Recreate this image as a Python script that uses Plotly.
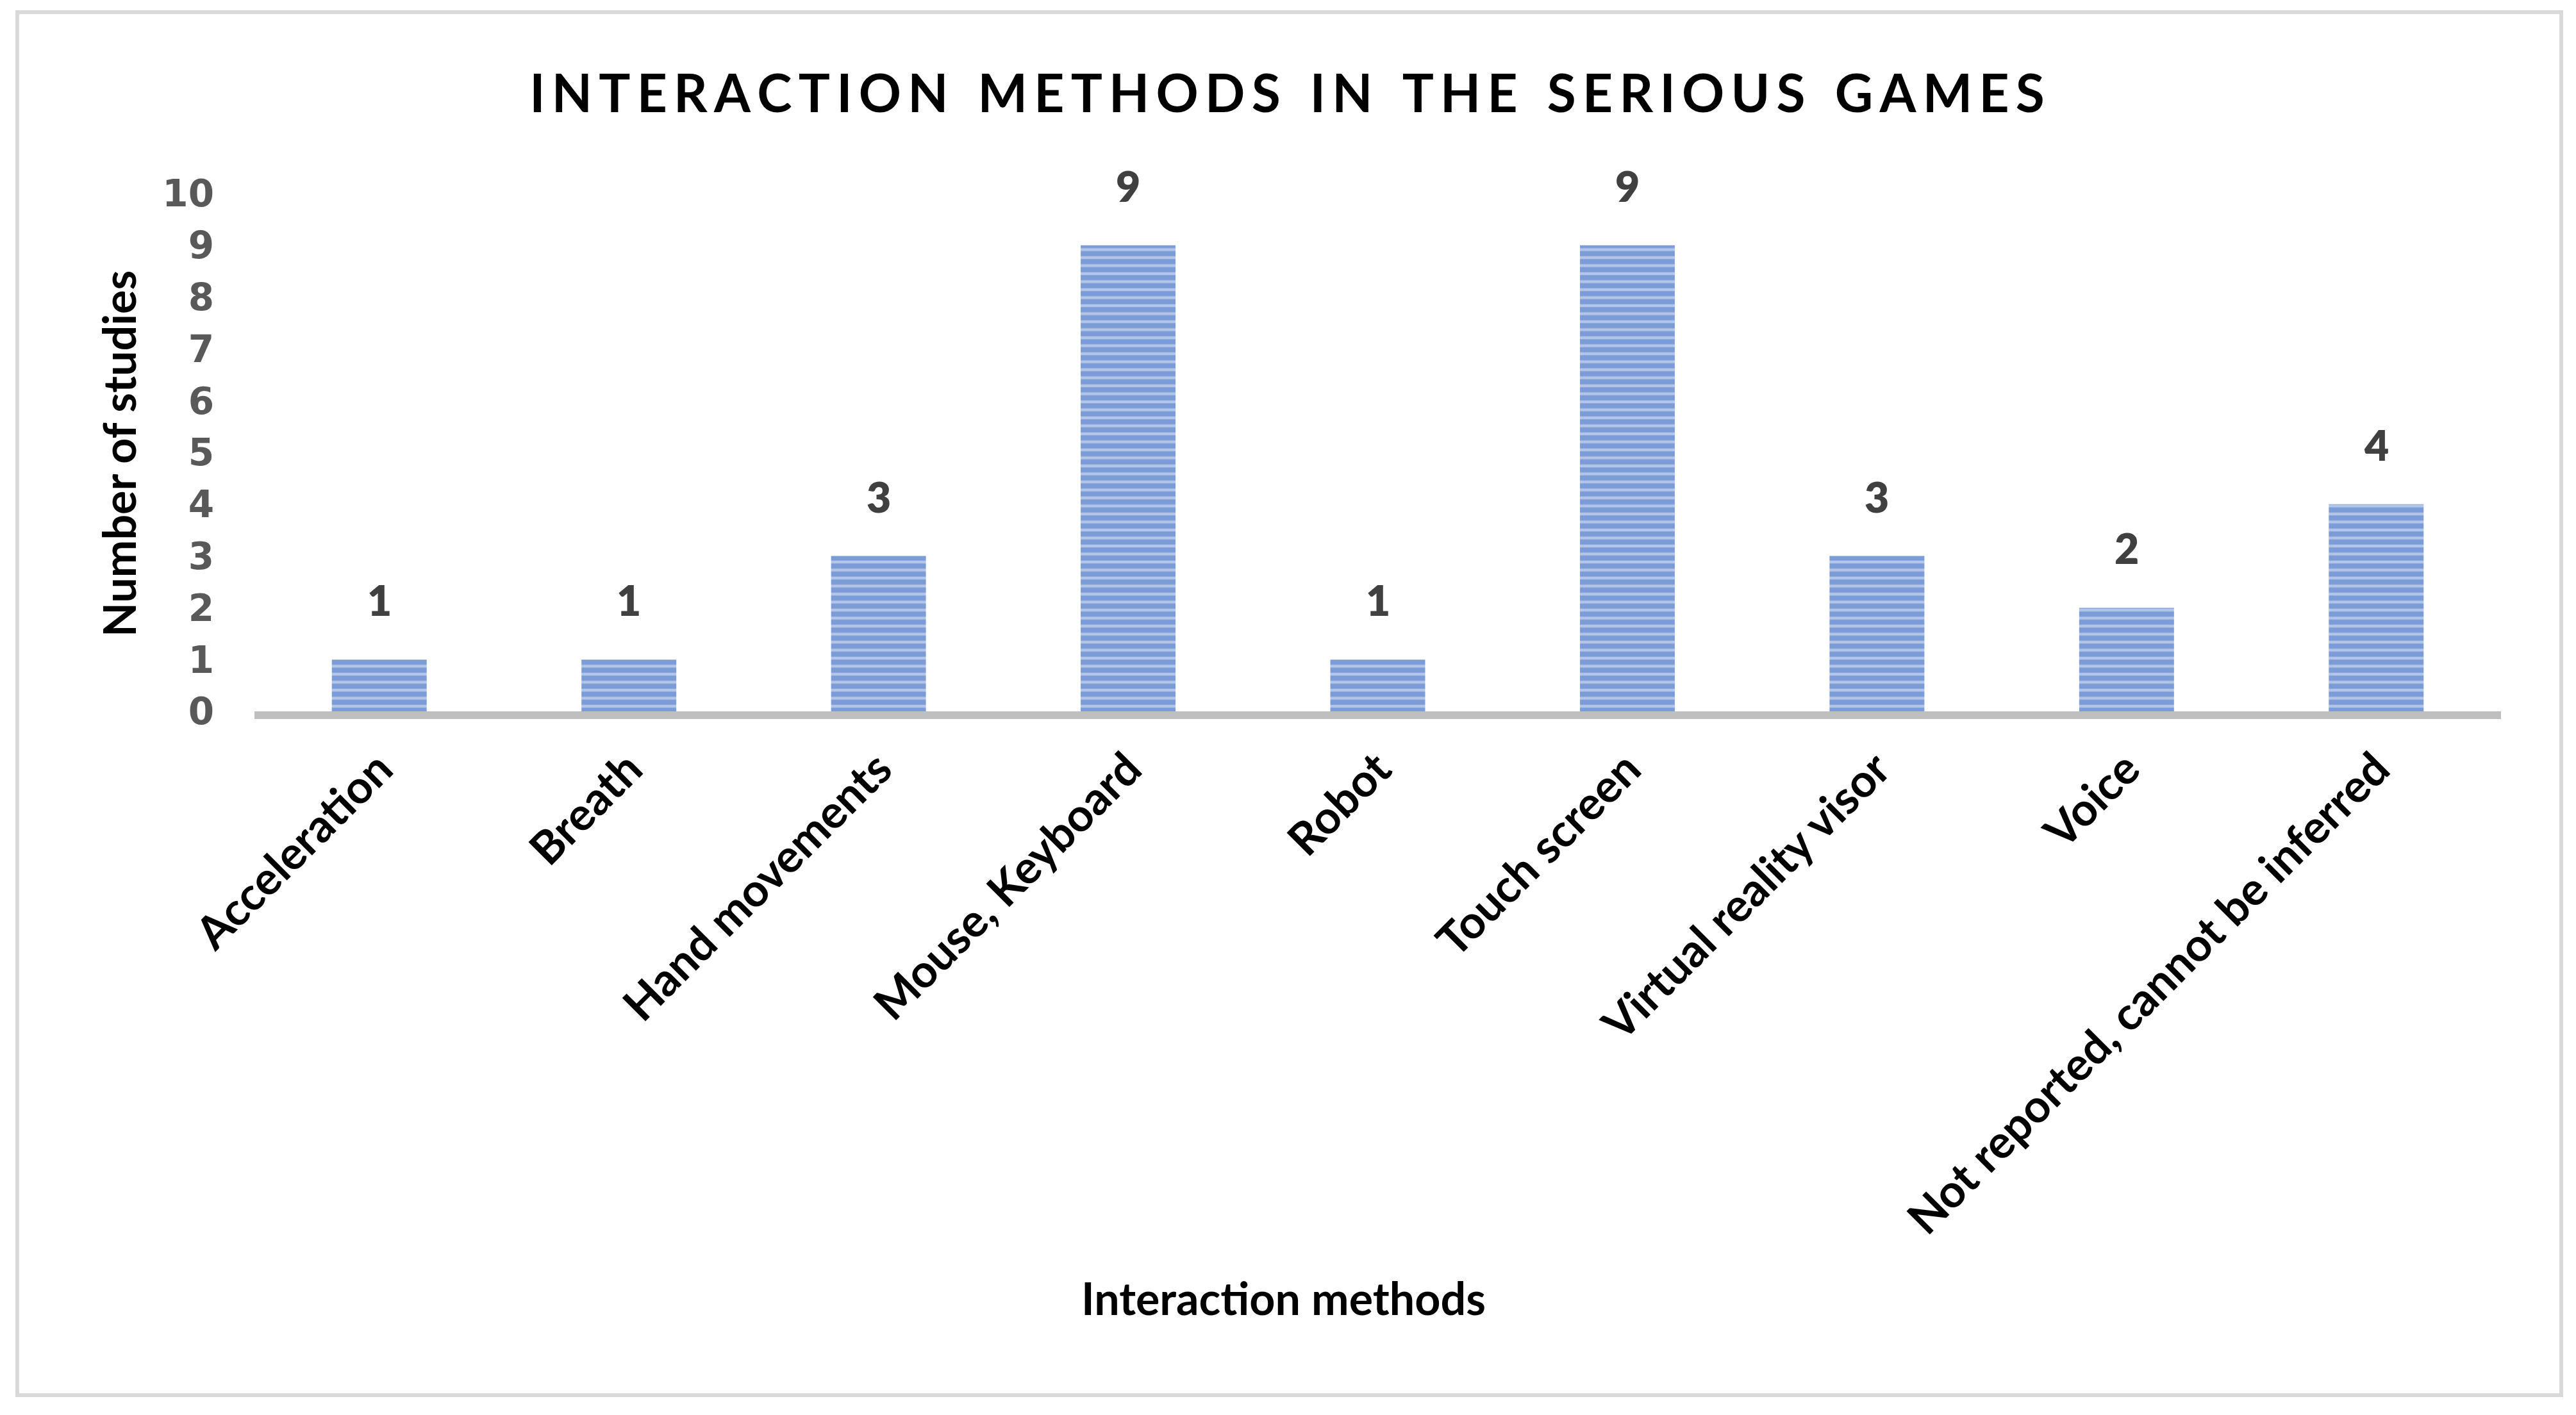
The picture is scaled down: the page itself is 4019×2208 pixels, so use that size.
import plotly.graph_objects as go

categories = ["Acceleration", "Breath", "Hand movements", "Mouse, Keyboard", "Robot",
              "Touch screen", "Virtual reality visor", "Voice", "Not reported, cannot be inferred"]
studies = [1, 1, 3, 9, 1, 9, 3, 2, 4]
y_ticks = list(range(0, 11))

title_text = "INTERACTION METHODS IN THE SERIOUS GAMES"
x_title = "Interaction methods"
y_title = "Number of studies"

W, H = 4019, 2208
OFF = 8  # page body margin
L, T = 397 - OFF, 302 - OFF
R, B = W - (3902 - OFF), H - (1110 - OFF)
PW, PH = W - L - R, H - T - B


def px(x):
    return (x - OFF - L) / PW


def py(y):
    return (H - B - (y - OFF)) / PH


def spaced(s, gap="\u200a\u200a"):
    # imitate Excel's character spacing
    return gap.join(s).replace(gap + " " + gap, "\u2002\u200a")


fig = go.Figure()
fig.add_trace(go.Bar(
    x=categories, y=studies,
    marker=dict(color="#b3c6e8", line=dict(width=0),
                pattern=dict(shape="-", fgcolor="#4472c4", fillmode="overlay",
                             size=12.5, solidity=0.65)),
    width=0.38, hoverinfo="x+y",
))

for c, v in zip(categories, studies):
    fig.add_annotation(x=c, y=v, text=str(v), showarrow=False, yanchor="bottom",
                       yshift=52, font=dict(family="Lato", size=66, color="#404040", weight=800))

fig.add_annotation(xref="paper", yref="paper", x=px(2002), y=py(2025),
                   text=x_title, showarrow=False, xanchor="center", yanchor="middle",
                   font=dict(family="Lato", size=70, color="#000000", weight="bold"))
fig.add_annotation(xref="paper", yref="paper", x=px(185), y=py(708),
                   text=y_title, textangle=-90, showarrow=False, xanchor="center", yanchor="middle",
                   font=dict(family="Lato", size=70, color="#000000", weight="bold"))

# outer chart frame
fig.add_shape(type="rect", xref="paper", yref="paper",
              x0=px(27), x1=px(3996), y0=py(2177), y1=py(19),
              line=dict(color="#d9d9d9", width=6), layer="below")

fig.update_layout(
    width=W, height=H,
    margin=dict(l=L, r=R, t=T, b=B),
    paper_bgcolor="white", plot_bgcolor="white",
    showlegend=False,
    title=dict(text=spaced(title_text), xref="container", x=(2008 - OFF) / W, xanchor="center",
               y=1 - (146 - OFF) / H, yanchor="middle",
               font=dict(family="Lato", size=82, color="#000000", weight="bold")),
)
fig.update_xaxes(showline=True, linecolor="#bfbfbf", linewidth=12, showgrid=False,
                 tickangle=-45, ticks="", ticklabelstandoff=8,
                 tickfont=dict(family="Lato", size=71, color="#000000", weight="bold"))
fig.update_yaxes(range=[0, 10], tickvals=y_ticks, showgrid=False, zeroline=False, showline=False,
                 ticks="", ticklabelstandoff=62,
                 tickfont=dict(family="DejaVu Sans", size=58, color="#595959", weight="bold"))

fig.write_html("out.html")
